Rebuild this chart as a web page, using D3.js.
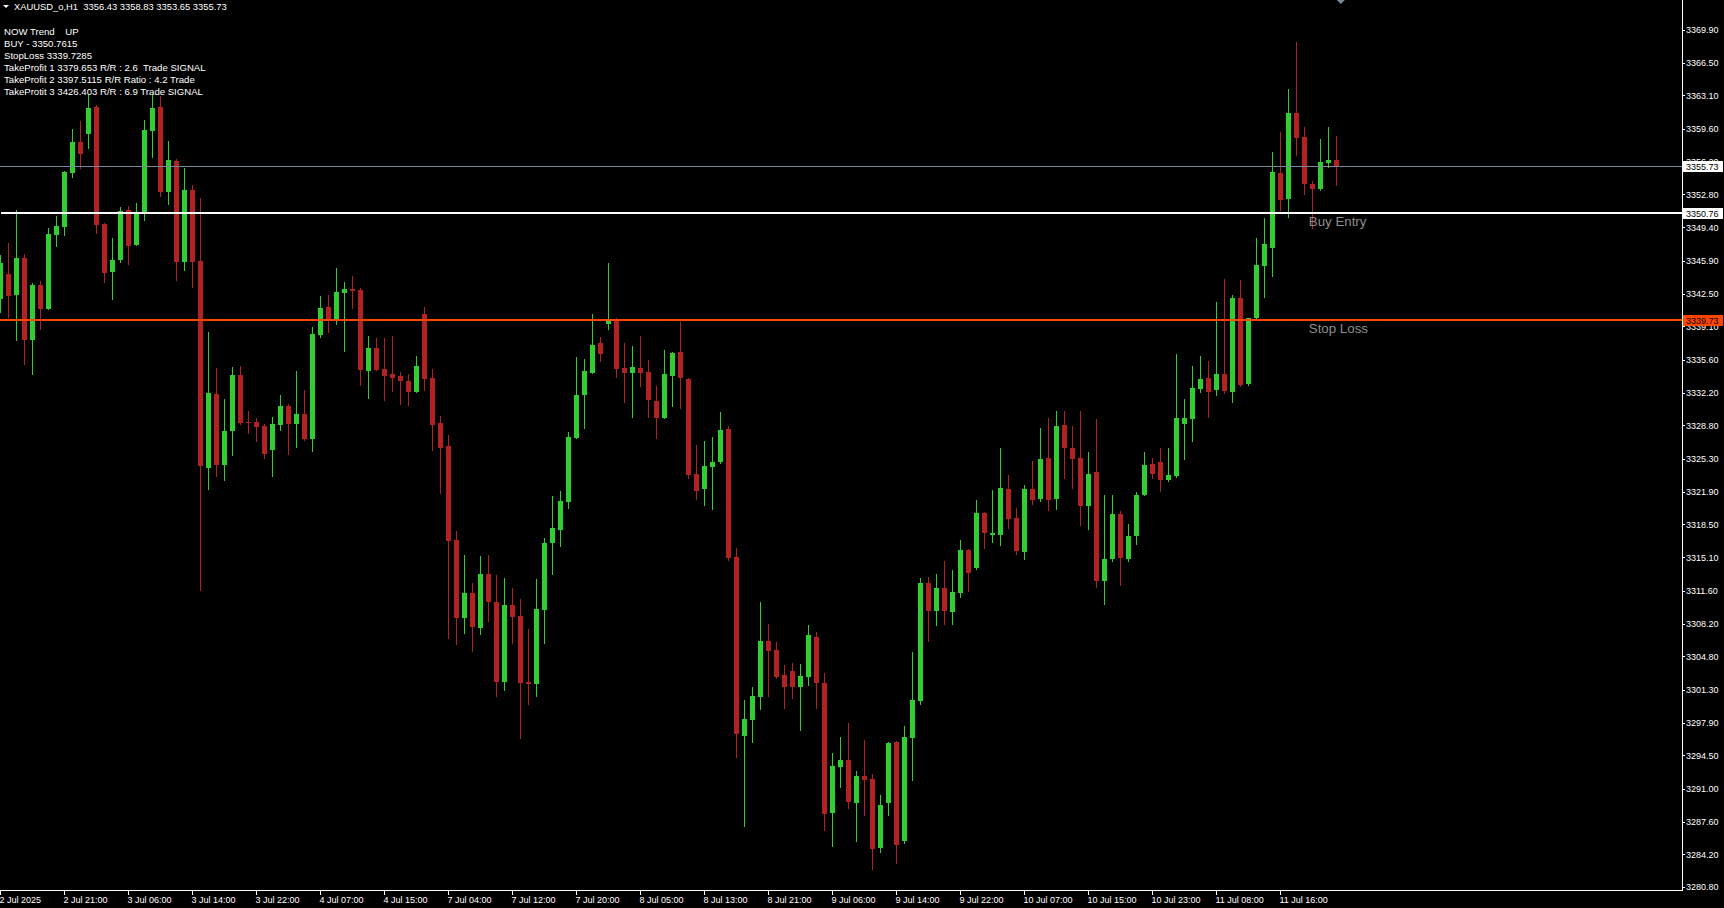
<!DOCTYPE html>
<html><head><meta charset="utf-8">
<script src="https://cdn.jsdelivr.net/npm/d3@7"></script>
<style>
html,body{margin:0;padding:0;background:#000;overflow:hidden}
svg{display:block}
text{font-family:"Liberation Sans",Arial,sans-serif;white-space:pre}
</style></head><body>
<svg id="c" width="1724" height="908"></svg>
<script>
// ---- DATA (XAUUSD_o, H1) ----
const opens = [3341.94,3344.54,3342.39,3346.20,3337.71,3343.39,3340.93,3348.62,3349.45,3355.07,
3358.26,3359.12,3361.90,3349.73,3344.75,3345.99,3351.19,3347.55,3350.88,3359.43,
3361.90,3353.09,3356.28,3345.82,3353.27,3345.89,3324.40,3332.06,3324.71,3328.25,
3334.04,3329.18,3329.15,3328.74,3326.27,3328.87,3330.82,3328.98,3329.98,3327.42,
3338.23,3341.11,3339.68,3342.56,3342.98,3342.87,3334.49,3336.85,3334.66,3334.14,
3333.94,3333.42,3332.30,3340.38,3333.73,3329.05,3326.66,3316.89,3308.81,3311.38,
3307.77,3313.35,3310.47,3302.16,3310.16,3308.99,3302.13,3301.95,3309.64,3316.58,
3317.93,3320.84,3327.49,3331.96,3334.25,3337.37,3339.34,3339.76,3334.77,3334.25,
3334.77,3334.35,3331.34,3329.57,3333.94,3336.43,3333.62,3323.75,3322.22,3324.51,
3325.00,3328.43,3315.12,3296.54,3298.21,3300.60,3306.39,3305.45,3302.85,3303.27,
3301.64,3302.68,3306.80,3302.05,3288.54,3293.32,3294.02,3289.58,3292.35,3292.04,
3284.90,3289.58,3295.92,3285.63,3296.34,3300.18,3312.45,3309.54,3311.93,3309.43,
3311.41,3315.88,3314.01,3319.72,3317.44,3317.44,3322.22,3319.20,3315.67,3322.22,
3321.18,3325.44,3321.18,3328.87,3326.49,3325.41,3320.41,3323.91,3312.59,3314.86,
3319.63,3314.86,3317.29,3321.52,3324.83,3325.03,3323.10,3323.49,3328.96,3329.45,
3332.53,3333.69,3332.46,3334.18,3332.23,3342.00,3333.15,3339.92,3345.36,3347.20,
3355.02,3352.32,3361.25,3358.75,3353.86,3353.36,3356.06,3356.43];
const highs = [3346.51,3347.76,3351.16,3346.62,3343.60,3343.78,3349.32,3350.57,3355.21,3359.58,
3360.44,3363.25,3362.07,3349.84,3348.28,3351.50,3351.61,3351.92,3360.55,3363.22,
3363.07,3358.36,3356.49,3355.56,3353.79,3352.44,3338.51,3334.77,3331.54,3334.87,
3334.97,3330.30,3329.57,3328.94,3329.67,3331.96,3331.02,3334.46,3332.48,3339.03,
3342.25,3342.35,3345.16,3343.71,3344.33,3343.08,3338.09,3337.88,3337.88,3338.09,
3334.35,3334.14,3336.01,3341.11,3334.66,3329.78,3327.80,3317.82,3315.33,3312.42,
3315.22,3315.33,3313.25,3312.94,3311.90,3310.75,3307.67,3312.83,3317.09,3321.46,
3321.98,3328.11,3335.91,3335.70,3340.38,3337.99,3345.68,3339.96,3337.37,3337.05,
3338.09,3335.60,3332.90,3336.64,3336.40,3339.55,3333.70,3326.76,3327.18,3327.59,
3330.19,3328.74,3316.06,3300.26,3301.61,3310.44,3308.16,3306.28,3303.89,3304.10,
3303.99,3308.05,3307.32,3303.09,3294.75,3296.41,3297.86,3292.91,3296.10,3292.56,
3290.38,3295.92,3296.03,3297.58,3305.28,3312.97,3313.07,3313.38,3314.73,3313.80,
3316.92,3315.98,3321.08,3319.83,3322.12,3326.48,3323.67,3320.24,3322.64,3325.13,
3328.56,3329.60,3330.30,3330.34,3328.69,3330.34,3326.07,3329.41,3321.60,3321.60,
3319.94,3318.59,3321.84,3326.00,3325.37,3326.41,3326.41,3336.19,3331.49,3334.92,
3335.96,3335.46,3341.59,3343.97,3342.31,3343.89,3339.96,3348.24,3350.32,3357.21,
3359.29,3363.76,3368.64,3359.79,3354.17,3358.56,3359.79,3358.83];
const lows = [3340.48,3339.96,3337.60,3335.05,3334.01,3338.75,3340.80,3347.38,3348.52,3354.52,
3355.48,3357.53,3348.73,3343.63,3341.87,3345.68,3345.50,3347.48,3350.08,3356.60,
3352.57,3351.71,3343.84,3344.88,3343.11,3311.62,3322.12,3323.47,3323.05,3325.65,
3328.87,3327.94,3327.10,3325.34,3323.47,3328.25,3325.75,3326.48,3327.21,3326.07,
3337.92,3338.44,3339.27,3336.46,3340.93,3332.93,3331.57,3334.49,3331.37,3332.30,
3330.95,3330.85,3332.20,3332.41,3326.17,3321.70,3306.63,3306.00,3307.15,3305.28,
3307.04,3308.40,3300.60,3301.22,3306.11,3296.23,3299.77,3300.60,3306.11,3313.28,
3316.19,3320.14,3327.39,3328.46,3334.14,3335.42,3338.72,3333.73,3331.16,3329.60,
3332.82,3329.60,3327.42,3329.50,3330.74,3330.54,3323.26,3321.08,3320.45,3320.04,
3324.82,3314.74,3294.26,3287.08,3295.82,3299.25,3300.60,3302.47,3299.35,3300.39,
3297.06,3301.74,3299.35,3286.67,3285.01,3291.14,3288.96,3285.53,3288.23,3282.62,
3284.38,3288.23,3283.24,3285.32,3291.87,3299.77,3306.32,3307.98,3308.08,3308.08,
3310.89,3311.51,3313.80,3315.98,3316.61,3316.30,3318.06,3315.36,3314.84,3320.56,
3320.87,3319.93,3320.00,3323.22,3322.18,3318.33,3317.91,3311.90,3310.16,3314.56,
3312.05,3314.56,3316.33,3321.41,3323.26,3321.87,3322.91,3323.37,3325.18,3327.06,
3332.15,3329.57,3331.80,3332.03,3331.11,3332.76,3332.84,3339.69,3342.00,3344.19,
3351.06,3350.32,3356.79,3352.75,3349.21,3353.13,3355.56,3353.65];
const closes = [3345.68,3342.28,3346.20,3337.71,3343.39,3340.93,3348.70,3349.53,3355.14,3358.26,
3357.04,3361.79,3349.66,3344.67,3345.99,3351.09,3347.45,3350.88,3359.51,3361.79,
3353.09,3356.39,3345.82,3353.27,3345.82,3324.61,3332.17,3324.71,3328.22,3334.04,
3329.08,3329.08,3328.66,3325.86,3328.94,3330.82,3328.98,3329.98,3327.42,3338.30,
3341.00,3339.68,3342.67,3342.98,3342.77,3334.59,3336.85,3334.59,3333.97,3333.76,
3333.45,3332.30,3334.97,3333.65,3328.87,3326.48,3316.81,3308.81,3311.38,3307.87,
3313.35,3310.47,3302.16,3310.16,3308.91,3302.05,3301.95,3309.71,3316.58,3318.13,
3320.94,3327.59,3331.96,3334.46,3337.16,3336.22,3339.65,3334.66,3334.25,3334.87,
3334.25,3331.44,3329.57,3334.14,3336.33,3333.73,3323.64,3322.01,3324.58,3325.00,
3328.32,3315.05,3296.75,3298.28,3300.67,3306.39,3305.38,3302.68,3301.64,3301.64,
3302.75,3307.01,3302.05,3288.44,3293.39,3294.02,3289.68,3292.35,3291.97,3284.80,
3289.34,3295.82,3285.21,3296.44,3300.29,3312.45,3309.54,3311.93,3309.54,3311.51,
3315.88,3313.49,3319.72,3317.65,3317.65,3322.32,3319.10,3315.77,3322.22,3321.08,
3325.34,3321.08,3328.77,3326.45,3325.30,3320.41,3323.79,3312.59,3314.94,3319.63,
3314.97,3317.32,3321.60,3324.72,3323.79,3323.10,3323.60,3329.61,3329.53,3332.65,
3333.57,3332.23,3334.11,3332.34,3342.00,3332.96,3339.92,3345.43,3347.63,3355.13,
3352.21,3361.25,3358.67,3353.86,3353.36,3356.17,3356.37,3355.73];

const timeTickLabels = ["2 Jul 2025","2 Jul 21:00","3 Jul 06:00","3 Jul 14:00","3 Jul 22:00","4 Jul 07:00",
"4 Jul 15:00","7 Jul 04:00","7 Jul 12:00","7 Jul 20:00","8 Jul 05:00","8 Jul 13:00","8 Jul 21:00",
"9 Jul 06:00","9 Jul 14:00","9 Jul 22:00","10 Jul 07:00","10 Jul 15:00","10 Jul 23:00","11 Jul 08:00","11 Jul 16:00"];
const barsPerTimeTick = 8;
const priceTickLabels = ["3369.90","3366.50","3363.10","3359.60","3356.20","3352.80","3349.40","3345.90",
"3342.50","3339.10","3335.60","3332.20","3328.80","3325.30","3321.90","3318.50","3315.10","3311.60",
"3308.20","3304.80","3301.30","3297.90","3294.50","3291.00","3287.60","3284.20","3280.80"];

const symbolTitle = "XAUUSD_o,H1";
const bidPrice = 3355.73;
const buyEntry = 3350.76;
const stopLoss = 3339.73;
const infoLines = ["NOW Trend    UP","BUY - 3350.7615","StopLoss 3339.7285",
"TakeProfit 1 3379.653 R/R : 2.6  Trade SIGNAL",
"TakeProfit 2 3397.5115 R/R Ratio : 4.2 Trade",
"TakeProtit 3 3426.403 R/R : 6.9 Trade SIGNAL"];
const levelLabels = ["Buy Entry","Stop Loss"];

// ---- LAYOUT ----
const W = 1724, H = 908, plotRight = 1682, plotBottom = 890;
const UP = "#32cd32", DOWN = "#b22222";
const FONT = '"Liberation Sans",Arial,sans-serif';

const svg = d3.select("#c");
svg.append("rect").attr("width", W).attr("height", H).attr("fill", "#000");

const x = d3.scaleLinear().domain([0, 210]).range([0, 1680]);
const y = d3.scaleLinear().domain([3280.80, 3369.90]).range([887.1, 29.98]);

const bars = d3.range(opens.length).map(i => ({i, o: opens[i], h: highs[i], l: lows[i], c: closes[i]}));

// candles
const gC = svg.append("g").attr("shape-rendering", "crispEdges");
gC.selectAll("rect.w").data(bars).join("rect").attr("class", "w")
  .attr("x", d => Math.round(x(d.i)))
  .attr("width", 1)
  .attr("y", d => Math.round(y(d.h)))
  .attr("height", d => Math.max(1, Math.round(y(d.l)) - Math.round(y(d.h))))
  .attr("fill", d => d.c > d.o ? UP : DOWN);
gC.selectAll("rect.b").data(bars).join("rect").attr("class", "b")
  .attr("x", d => Math.round(x(d.i)) - 2)
  .attr("width", 5)
  .attr("y", d => Math.round(y(Math.max(d.o, d.c))))
  .attr("height", d => Math.max(1, Math.round(y(Math.min(d.o, d.c))) - Math.round(y(Math.max(d.o, d.c)))))
  .attr("fill", d => d.c > d.o ? UP : DOWN);

// horizontal level lines (centre y of each line)
const lineCentre = {
  bid: Math.round(y(bidPrice)) + 0.5,
  buy: Math.round(y(buyEntry)) - 1,
  stop: Math.round(y(stopLoss))
};
const gL = svg.append("g").attr("shape-rendering", "crispEdges");
gL.append("line").attr("x1", 0).attr("x2", plotRight)
  .attr("y1", lineCentre.bid).attr("y2", lineCentre.bid)
  .attr("stroke", "#778899").attr("stroke-width", 1);
gL.append("line").attr("x1", 1).attr("x2", plotRight)
  .attr("y1", lineCentre.buy).attr("y2", lineCentre.buy)
  .attr("stroke", "#ffffff").attr("stroke-width", 2);
gL.append("line").attr("x1", 0).attr("x2", plotRight)
  .attr("y1", lineCentre.stop).attr("y2", lineCentre.stop)
  .attr("stroke", "#ff4500").attr("stroke-width", 2);

// level text
svg.append("text").attr("x", x(163.6)).attr("y", lineCentre.buy + 13)
  .attr("fill", "#8e8e8e").style("font-size", "13.3px").text(levelLabels[0]);
svg.append("text").attr("x", x(163.6)).attr("y", lineCentre.stop + 13)
  .attr("fill", "#8e8e8e").style("font-size", "13.3px").text(levelLabels[1]);

// price axis
const yAxis = d3.axisRight(y).tickValues(priceTickLabels.map(Number))
  .tickFormat((d, k) => priceTickLabels[k]).tickSize(3).tickPadding(1).tickSizeOuter(0);
const gy = svg.append("g").attr("transform", `translate(${plotRight},0)`).call(yAxis);
gy.select(".domain").remove();
gy.selectAll("line").attr("stroke", "#fff").attr("shape-rendering", "crispEdges");
gy.selectAll("text").attr("fill", "#fff").style("font-size", "9px").attr("font-family", FONT);

// time axis
const xAxis = d3.axisBottom(x).tickValues(timeTickLabels.map((_, k) => k * barsPerTimeTick))
  .tickFormat((d, k) => timeTickLabels[k]).tickSize(5).tickPadding(2).tickSizeOuter(0);
const gx = svg.append("g").attr("transform", `translate(0,${plotBottom})`).call(xAxis);
gx.select(".domain").remove();
gx.selectAll("line").attr("stroke", "#fff").attr("shape-rendering", "crispEdges");
gx.selectAll("text").attr("fill", "#fff").attr("text-anchor", "start").attr("x", -1)
  .style("font-size", "9px").attr("font-family", FONT);

// frame lines
svg.append("path").attr("d", `M0,${plotBottom + 0.5}H${plotRight + 0.5}V0`)
  .attr("fill", "none").attr("stroke", "#fff").attr("stroke-width", 1).attr("shape-rendering", "crispEdges");

// price label boxes (drawn over the axis labels, as in the terminal)
const boxes = [{p: bidPrice, c: lineCentre.bid, fill: "#ffffff"},
               {p: buyEntry, c: lineCentre.buy, fill: "#ffffff"},
               {p: stopLoss, c: lineCentre.stop, fill: "#ff4500"}];
const gB = svg.append("g");
boxes.forEach(b => {
  const top = Math.round(b.c - 5.5);
  gB.append("rect").attr("x", plotRight + 1).attr("y", top).attr("width", 40).attr("height", 11)
    .attr("fill", b.fill).attr("shape-rendering", "crispEdges");
  gB.append("text").attr("x", plotRight + 4).attr("y", top + 8.5).attr("fill", "#000")
    .style("font-size", "9px").text(d3.format(".2f")(b.p));
});

// header
svg.append("path").attr("d", "M3,5L9,5L6,8Z").attr("fill", "#fff");
const last = bars[bars.length - 1];
svg.append("text").attr("x", 14).attr("y", 10).attr("fill", "#fff").style("font-size", "9.4px")
  .text(`${symbolTitle}  ${[last.o, last.h, last.l, last.c].map(d3.format(".2f")).join(" ")}`);

// info lines
svg.selectAll("text.info").data(infoLines).join("text").attr("class", "info")
  .attr("x", 4).attr("y", (d, k) => 35 + 12 * k).attr("fill", "#fff").style("font-size", "9.6px").text(d => d);

// chart shift marker
svg.append("path").attr("d", `M${x(167.6) - 4},0L${x(167.6) + 4},0L${x(167.6)},4Z`).attr("fill", "#778899");
</script>
</body></html>
